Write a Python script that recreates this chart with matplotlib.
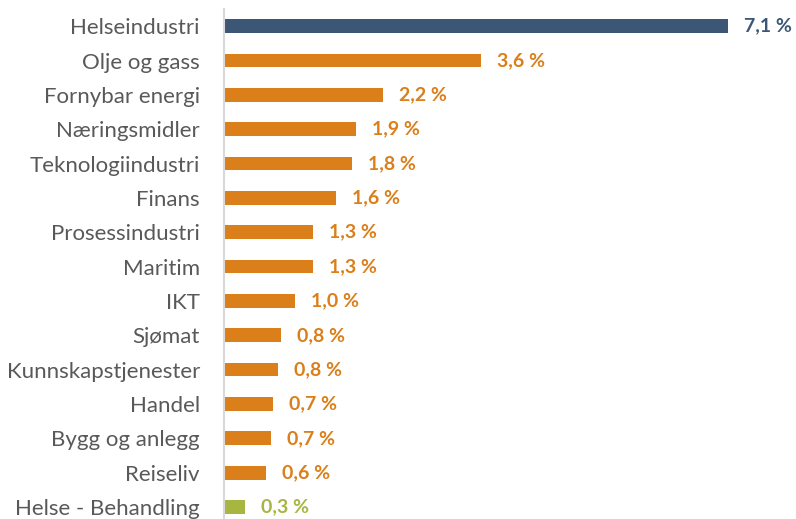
import matplotlib
matplotlib.use("Agg")
import matplotlib.pyplot as plt

categories = ["Helseindustri", "Olje og gass", "Fornybar energi", "Næringsmidler",
              "Teknologiindustri", "Finans", "Prosessindustri", "Maritim", "IKT",
              "Sjømat", "Kunnskapstjenester", "Handel", "Bygg og anlegg", "Reiseliv",
              "Helse - Behandling"]
values = [7.08, 3.61, 2.24, 1.86, 1.80, 1.58, 1.26, 1.26, 1.00, 0.81, 0.76, 0.69, 0.66,
          0.59, 0.30]
value_labels = ["7,1 %", "3,6 %", "2,2 %", "1,9 %", "1,8 %", "1,6 %", "1,3 %", "1,3 %",
                "1,0 %", "0,8 %", "0,8 %", "0,7 %", "0,7 %", "0,6 %", "0,3 %"]

BLUE = "#3B5775"
ORANGE = "#DA7F19"
GREEN = "#A6B641"
colors = [BLUE] + [ORANGE] * 13 + [GREEN]

plt.rcParams['font.family'] = ['Lato', 'DejaVu Sans']

W, H = 796, 519
fig = plt.figure(figsize=(W / 100, H / 100), dpi=100)
left_px, top_px = 223.5, 9
ax = fig.add_axes([left_px / W, 0, (W - left_px) / W, (H - top_px) / H])

y = list(range(len(categories)))
ax.barh(y, values, height=0.40, color=colors)
ax.set_ylim(14.35, -0.5)
ax.set_xlim(0, (W - left_px) / 71.3)

for yi, v, lab, c in zip(y, values, value_labels, colors):
    ax.annotate(lab, (v, yi), xytext=(11.5, 0), textcoords="offset points",
                ha="left", va="center", fontsize=14, fontweight="bold", color=c)

ax.set_yticks(y)
ax.set_yticklabels(categories, fontsize=16, color="#595959")
ax.tick_params(axis="y", length=0, pad=17)
ax.set_xticks([])
for s in ["top", "right", "bottom"]:
    ax.spines[s].set_visible(False)
ax.spines["left"].set_color("#D9D9D9")
ax.spines["left"].set_linewidth(1.5)

fig.savefig("out.png", dpi=100)
